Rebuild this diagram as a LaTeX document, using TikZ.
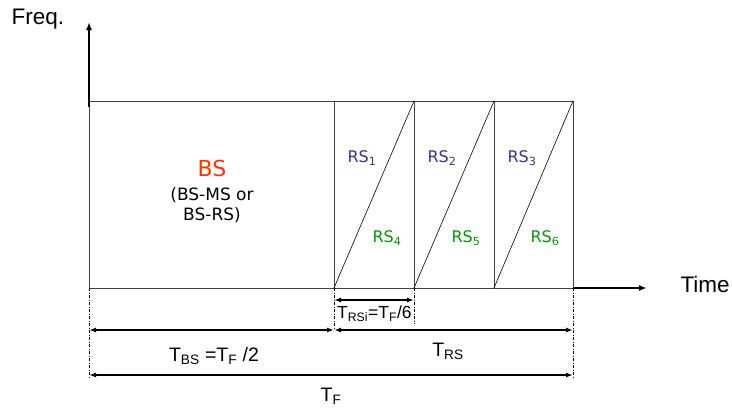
\documentclass[tikz,border=0pt]{standalone}
\usepackage{fontspec}
\setmainfont{Liberation Sans}
\newfontfamily\rsfont{DejaVu Sans}
\usetikzlibrary{arrows.meta}
\definecolor{bsred}{RGB}{255,51,0}
\definecolor{rsblue}{RGB}{51,51,153}
\definecolor{rsgreen}{RGB}{0,153,0}
\begin{document}
\begin{tikzpicture}[x=1pt,y=-1pt,
  axis/.style={line width=1.6pt,-{Latex[length=8pt,width=6pt]}},
  dimarrow/.style={line width=1.6pt,{Latex[length=7pt,width=5pt]}-{Latex[length=7pt,width=5pt]}},
  frame/.style={line width=0.8pt,draw=black!75},
  guide/.style={line width=0.7pt,dash pattern=on 3pt off 1.5pt on 1pt off 1.5pt},
  rsup/.style={text=rsblue,font=\rsfont\fontsize{16}{18}\selectfont},
  rsdn/.style={text=rsgreen,font=\rsfont\fontsize{16}{18}\selectfont},
  lab/.style={font=\fontsize{22.5}{25}\selectfont},
  dimlab/.style={font=\fontsize{19.5}{22}\selectfont}]
\useasboundingbox (0,0) rectangle (732,410);
% coordinates
\coordinate (O) at (89,288);
\coordinate (Otop) at (89,101);
\coordinate (A) at (334,288);
\coordinate (Atop) at (334,101);
\coordinate (B) at (414,288);
\coordinate (Btop) at (414,101);
\coordinate (C) at (494,288);
\coordinate (Ctop) at (494,101);
\coordinate (D) at (573,288);
\coordinate (Dtop) at (573,101);
\coordinate (yTip) at (89,22);
\coordinate (xTip) at (647,288);
% frame
\draw[frame] (O) rectangle (Dtop);
\draw[frame] (A) -- (Atop);
\draw[frame] (B) -- (Btop);
\draw[frame] (C) -- (Ctop);
\draw[line width=0.6pt] (A) -- (Btop);
\draw[line width=0.6pt] (B) -- (Ctop);
\draw[line width=0.6pt] (C) -- (Dtop);
% axes
\draw[axis] (89,107) -- (yTip);
\draw[axis] (D) -- (xTip);
\node[lab,anchor=west] (freq) at (8,19) {Freq.};
\node[lab,anchor=west] (time) at (677,284) {Time};
% labels
\node[text=bsred,font=\rsfont\fontsize{22}{25}\selectfont] (bs) at (212,168) {BS};
\node[font=\rsfont\fontsize{17}{19.5}\selectfont,align=center] (bsd) at (212,205) {(BS-MS or\\BS-RS)};
\node[rsup] (rs1) at (362,158) {RS\textsubscript{1}};
\node[rsup] (rs2) at (442,158) {RS\textsubscript{2}};
\node[rsup] (rs3) at (522,158) {RS\textsubscript{3}};
\node[rsdn] (rs4) at (387,238) {RS\textsubscript{4}};
\node[rsdn] (rs5) at (466,238) {RS\textsubscript{5}};
\node[rsdn] (rs6) at (545,238) {RS\textsubscript{6}};
% guides
\coordinate (g0) at (89,378);
\coordinate (g1) at (334,330);
\coordinate (g2) at (414,324);
\coordinate (g3) at (573,378);
\draw[guide] (O) -- (g0);
\draw[guide] (A) -- (g1);
\draw[guide] (B) -- (g2);
\draw[guide] (D) -- (g3);
% dimension arrows
\coordinate (a1) at (334,300);
\coordinate (b1) at (414,300);
\draw[dimarrow] (a1) -- (b1);
\node[font=\fontsize{17.5}{20}\selectfont,anchor=west,inner sep=0pt] (trsi) at (337,314) {T\textsubscript{RSi}=T\textsubscript{F}/6};
\coordinate (o2) at (89,330);
\coordinate (a2) at (334,330);
\coordinate (d2) at (573,330);
\draw[dimarrow] (o2) -- (a2);
\draw[dimarrow] (a2) -- (d2);
\node[dimlab] (tbs) at (214,356) {T\textsubscript{BS} =T\textsubscript{F} /2};
\node[dimlab] (trs) at (448,351) {T\textsubscript{RS}};
\coordinate (o3) at (89,375);
\coordinate (d3) at (573,375);
\draw[dimarrow] (o3) -- (d3);
\node[dimlab] (tf) at (331,396) {T\textsubscript{F}};
\end{tikzpicture}
\end{document}
